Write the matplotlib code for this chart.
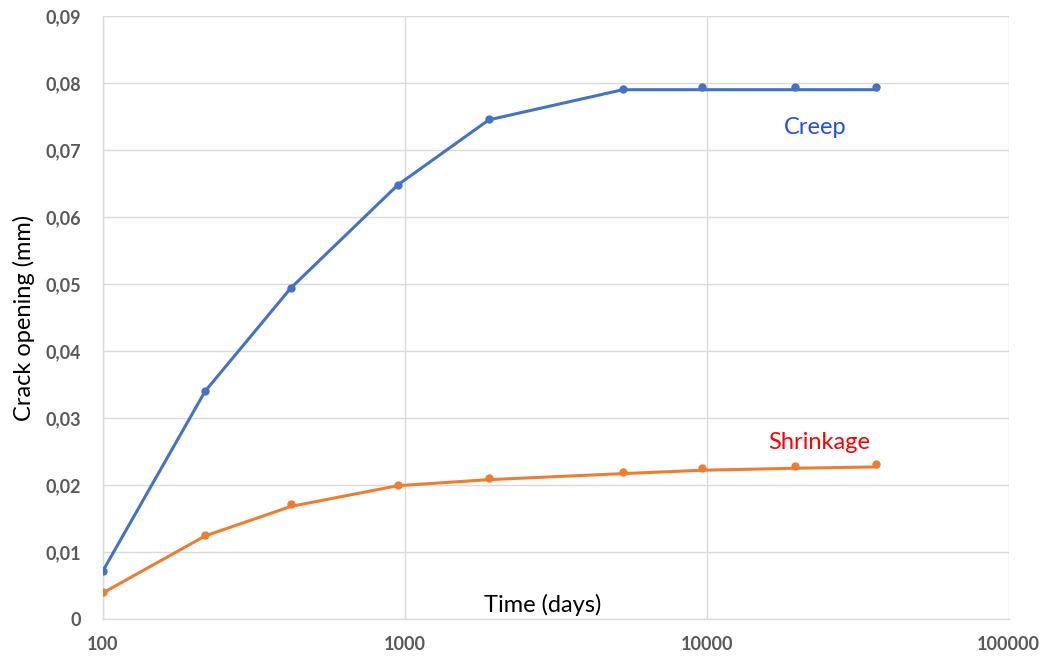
#!/usr/bin/env python3
"""
Crack opening vs time (creep and shrinkage), log time axis.
"""

import matplotlib
matplotlib.use("Agg")
import matplotlib.pyplot as plt
from matplotlib.ticker import FixedLocator, FuncFormatter, NullLocator

plt.rcParams["font.family"] = ["Lato", "DejaVu Sans"]

BLUE = "#4472C4"
ORANGE = "#ED7D31"
GRID = "#D9D9D9"
TICK_TEXT = "#595959"

# measured points
time_days = [100, 218, 419, 948, 1897, 5270, 9620, 19550, 36300]
creep_pts = [0.0072, 0.0340, 0.0494, 0.0648, 0.0746, 0.0791, 0.0794, 0.0794, 0.0794]
shrink_pts = [0.0040, 0.0126, 0.0172, 0.0200, 0.0211, 0.0220, 0.0225, 0.0228, 0.0231]

# fitted curves (drawn as lines)
creep_fit = [0.0072, 0.0340, 0.0494, 0.0648, 0.0745, 0.0790, 0.0790, 0.0790, 0.0790]
shrink_fit = [0.0039, 0.0124, 0.0168, 0.0199, 0.0208, 0.0217, 0.0222, 0.0225, 0.0227]

y_ticks = [0.0, 0.01, 0.02, 0.03, 0.04, 0.05, 0.06, 0.07, 0.08, 0.09]
x_ticks = [100, 1000, 10000, 100000]


def y_fmt(v, _pos):
    if abs(v) < 1e-12:
        return "0"
    return f"{v:.2f}".replace(".", ",")


def main() -> None:
    fig = plt.figure(figsize=(10.4, 6.56), dpi=100)
    ax = fig.add_axes([0.099, 0.0564, 0.871, 0.9192])

    ax.set_xscale("log")
    ax.set_xlim(100, 100000)
    ax.set_ylim(0, 0.09)

    ax.plot(time_days, creep_fit, color=BLUE, linewidth=2.2, zorder=3)
    ax.plot(time_days, shrink_fit, color=ORANGE, linewidth=2.2, zorder=3)
    ax.plot(time_days, creep_pts, "o", color=BLUE, markersize=5, zorder=4)
    ax.plot(time_days, shrink_pts, "o", color=ORANGE, markersize=5, zorder=4)

    ax.xaxis.set_major_locator(FixedLocator(x_ticks))
    ax.xaxis.set_minor_locator(NullLocator())
    ax.xaxis.set_major_formatter(FuncFormatter(lambda v, p: f"{int(round(v))}"))
    ax.yaxis.set_major_locator(FixedLocator(y_ticks))
    ax.yaxis.set_major_formatter(FuncFormatter(y_fmt))

    ax.grid(True, which="major", color=GRID, linewidth=1.0, zorder=0)
    ax.set_axisbelow(True)
    for side in ["top", "right"]:
        ax.spines[side].set_visible(False)
    for side in ["left", "bottom"]:
        ax.spines[side].set_color(GRID)
        ax.spines[side].set_linewidth(1.0)

    ax.tick_params(axis="x", length=0, labelsize=13, labelcolor=TICK_TEXT, pad=12)
    ax.tick_params(axis="y", length=0, labelsize=13, labelcolor=TICK_TEXT, pad=16)
    for lbl in ax.get_xticklabels() + ax.get_yticklabels():
        lbl.set_fontweight("bold")

    ax.set_ylabel("Crack opening (mm)", fontsize=17, color="black", labelpad=7)
    ax.text(2864, 0.0021, "Time (days)", fontsize=17, color="black",
            ha="center", va="center")

    ax.text(22800, 0.0734, "Creep", fontsize=17, color="#1F4FE8",
            ha="center", va="center")
    ax.text(23500, 0.0264, "Shrinkage", fontsize=17, color="#FF0000",
            ha="center", va="center")

    fig.savefig("out.png", dpi=100, facecolor="white")
    plt.close(fig)


if __name__ == "__main__":
    main()
